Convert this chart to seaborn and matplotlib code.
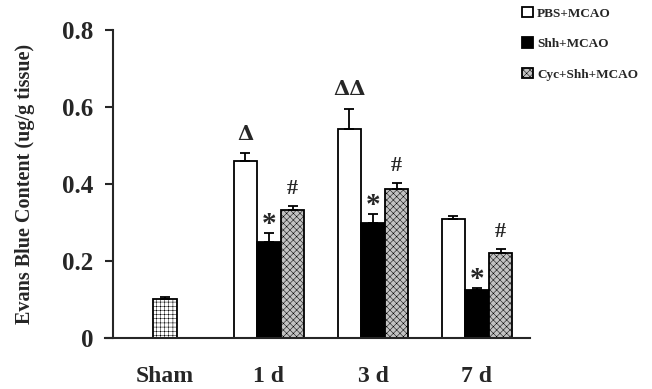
import matplotlib
matplotlib.use("Agg")
import matplotlib.pyplot as plt
from matplotlib.patches import Patch
import seaborn as sns
import pandas as pd
import numpy as np

# ---- data ----
days = ["Sham", "1 d", "3 d", "7 d"]
groups = ["PBS+MCAO", "Shh+MCAO", "Cyc+Shh+MCAO"]
time_points = ["1 d", "3 d", "7 d"]

sham_mean = [0.101]
sham_err = [0.005]
pbs_mean = [0.460, 0.543, 0.309]
pbs_err = [0.020, 0.052, 0.008]
shh_mean = [0.249, 0.299, 0.125]
shh_err = [0.024, 0.023, 0.005]
cyc_mean = [0.332, 0.387, 0.221]
cyc_err = [0.011, 0.016, 0.010]

marks_pbs = ["Δ", "ΔΔ", ""]
marks_shh = ["*", "*", "*"]
marks_cyc = ["#", "#", "#"]

yticks = [0, 0.2, 0.4, 0.6, 0.8]
ytick_labels = ["0", "0.2", "0.4", "0.6", "0.8"]

# ---- tables ----
df = pd.DataFrame({
    "day": time_points * 3,
    "group": [groups[0]] * 3 + [groups[1]] * 3 + [groups[2]] * 3,
    "value": pbs_mean + shh_mean + cyc_mean,
})
df_sham = pd.DataFrame({"day": ["Sham"], "value": sham_mean})

sns.set_style("ticks")
plt.rcParams["font.family"] = ["Liberation Serif", "DejaVu Serif"]
plt.rcParams["font.weight"] = "bold"
plt.rcParams["hatch.linewidth"] = 0.35

W, H = 652, 389
CYC_FACE = "#c2c2c2"
fig = plt.figure(figsize=(W / 100, H / 100), dpi=100)
ax = fig.add_axes([105 / W, 1 - 338 / H, 425 / W, 308 / H])

sns.barplot(data=df, x="day", y="value", hue="group", order=days,
            hue_order=groups, width=0.68, errorbar=None, ax=ax,
            palette=["white", "black", CYC_FACE], edgecolor="black",
            linewidth=1.3, legend=False, saturation=1)
sns.barplot(data=df_sham, x="day", y="value", order=days, width=0.24,
            errorbar=None, ax=ax, color="white", edgecolor="black",
            linewidth=1.3, saturation=1)

conts = ax.containers
pbs_c, shh_c, cyc_c, sham_c = conts[0], conts[1], conts[2], conts[3]

for p in cyc_c:
    p.set_hatch("xxxxx")
for p in sham_c:
    p.set_hatch("++++")

# spines first (set_position resets ticks)
for s in ["top", "right"]:
    ax.spines[s].set_visible(False)
ax.spines["left"].set_position(("axes", 8 / 425))
ax.spines["left"].set_linewidth(1.5)
ax.spines["bottom"].set_linewidth(1.5)


def add_err(cont, means, errs, marks=None, offset=0, size=15):
    xs = [p.get_x() + p.get_width() / 2 for p in cont]
    ax.errorbar(xs, means, yerr=[np.zeros(len(errs)), errs], fmt="none",
                ecolor="black", elinewidth=1.3, capsize=3.5, capthick=1.3,
                zorder=3)
    if marks:
        for x, m, e, s in zip(xs, means, errs, marks):
            if s:
                ax.annotate(s, (x, m + e), xytext=(0, offset),
                            textcoords="offset points", ha="center",
                            va="center", fontsize=size, fontweight="bold",
                            family=["DejaVu Serif"] if "Δ" in s else None)


add_err(sham_c, sham_mean, sham_err)
add_err(pbs_c, pbs_mean, pbs_err, marks_pbs, 14, 15)
add_err(shh_c, shh_mean, shh_err, marks_shh, 6, 21)
add_err(cyc_c, cyc_mean, cyc_err, marks_cyc, 12, 16)

ax.set_xlim(-0.577, 3.51)
ax.set_ylim(0, 0.8)
ax.spines["left"].set_bounds(0, 0.8)
ax.set_yticks(yticks)
ax.set_yticklabels(ytick_labels, fontsize=18, fontweight="bold")
ax.set_xticks(range(len(days)))
ax.set_xticklabels(days, fontsize=17, fontweight="bold")
ax.tick_params(axis="x", length=0, pad=20)
ax.tick_params(axis="y", length=6, width=1.5, pad=8, direction="out")
ax.set_xlabel("")
ax.set_ylabel("Evans Blue Content (ug/g tissue)", fontsize=14.5,
              fontweight="bold")
ax.yaxis.set_label_coords(-0.165, 0.5)

handles = [
    Patch(facecolor="white", edgecolor="black", linewidth=1.3),
    Patch(facecolor="black", edgecolor="black", linewidth=1.3),
    Patch(facecolor=CYC_FACE, edgecolor="black", linewidth=1.3, hatch="xxxxx"),
]
fig.legend(handles, groups, loc="upper left",
           bbox_to_anchor=(522 / W, 1 - 7 / H), frameon=False,
           prop={"family": "Liberation Serif", "weight": "bold", "size": 9.5},
           handlelength=0.8, handleheight=0.8, handletextpad=0.35,
           labelspacing=1.35, borderpad=0, borderaxespad=0)

fig.savefig("out.png", dpi=100)
